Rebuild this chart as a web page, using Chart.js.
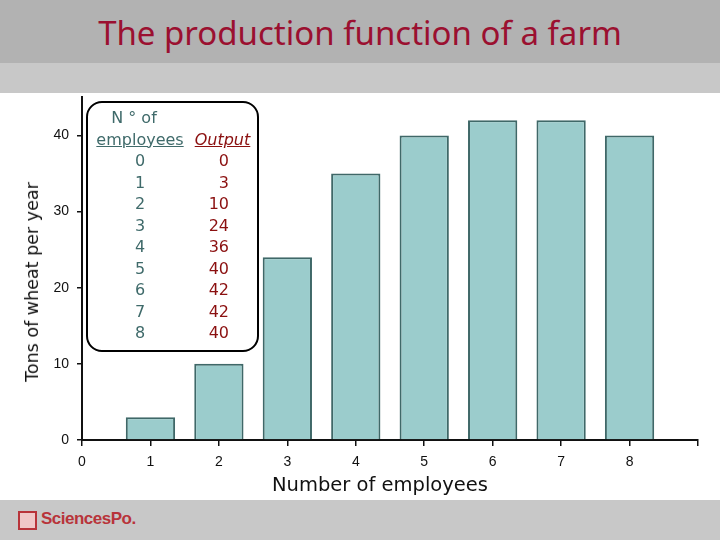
<!DOCTYPE html>
<html>
<head>
<meta charset="utf-8">
<script src="https://cdn.jsdelivr.net/npm/chart.js@4"></script>
<style>
  html, body { margin: 0; padding: 0; }
  body { width: 720px; height: 540px; position: relative; overflow: hidden; background: #fff; font-family: "DejaVu Sans", sans-serif; }
  #titlebar { position: absolute; left: 0; top: 0; width: 720px; height: 63px; background: #b2b2b2; }
  #title { position: absolute; left: 0; top: 0; width: 720px; height: 63px; line-height: 66px; text-align: center;
           font-family: "Noto Sans", sans-serif; font-size: 33px; color: #9b1030; }
  #subbar { position: absolute; left: 0; top: 63px; width: 720px; height: 30px; background: #c8c8c8; }
  #footer { position: absolute; left: 0; top: 500px; width: 720px; height: 40px; background: #c8c8c8; }
  #logoBox { position: absolute; left: 18px; top: 511px; width: 15px; height: 15px; border: 2px solid #b8343a; background: #f0c8c8; }
  #logoText { position: absolute; left: 41px; top: 509px; font-family: "Liberation Sans", sans-serif; font-weight: bold;
              font-size: 17px; color: #b8343a; letter-spacing: -0.5px; }
  #chartWrap { position: absolute; left: 0; top: 81px; width: 720px; height: 419px; }
  #yTitle { position: absolute; left: 32px; top: 282px; transform: translate(-50%, -50%) rotate(-90deg);
            white-space: nowrap; font-size: 17.5px; color: #111; }
  #xTitle { position: absolute; left: 380px; top: 484px; transform: translate(-50%, -50%);
            white-space: nowrap; font-size: 19.5px; color: #111; }
  #table { position: absolute; left: 86px; top: 101px; width: 169px; height: 247px; border: 2px solid #000;
           border-radius: 16px; background: #fff; font-size: 16px; }
  .row { position: absolute; left: 0; width: 169px; height: 21.5px; line-height: 21.5px; }
  .c1 { position: absolute; left: 2px; width: 100px; text-align: center; color: #3f6a6a; }
  .c2 { position: absolute; left: 104px; width: 37px; text-align: right; color: #8b1010; }
  .hd2 { position: absolute; left: 104px; width: 61px; text-align: center; color: #8b1010; font-style: italic; text-decoration: underline; }
</style>
</head>
<body>
<div id="titlebar"></div>
<div id="title">The production function of a farm</div>
<div id="subbar"></div>
<div id="chartWrap"><canvas id="chart" width="720" height="419"></canvas></div>
<div id="yTitle">Tons of wheat per year</div>
<div id="xTitle">Number of employees</div>
<div id="table"></div>
<div id="footer"></div>
<div id="logoBox"></div>
<div id="logoText">SciencesPo.</div>
<script>
// Bars as drawn in the picture
const employees = [1, 2, 3, 4, 5, 6, 7, 8];
const wheatTons = [3, 10, 24, 35, 40, 42, 42, 40];

// Numbers printed in the inset table
const tableEmployees = [0, 1, 2, 3, 4, 5, 6, 7, 8];
const tableOutput = [0, 3, 10, 24, 36, 40, 42, 42, 40];

const yTicks = [0, 10, 20, 30, 40];
const xTickLabels = ['0', '1', '2', '3', '4', '5', '6', '7', '8'];

// Inset table
const table = document.getElementById('table');
const rowH = 21.5;
let top0 = 4;
function addRow(i, left, right, header) {
    const row = document.createElement('div');
    row.className = 'row';
    row.style.top = (top0 + i * rowH) + 'px';
    const a = document.createElement('span');
    a.className = 'c1';
    a.innerHTML = left;
    row.appendChild(a);
    if (right !== null) {
        const b = document.createElement('span');
        b.className = header ? 'hd2' : 'c2';
        b.textContent = right;
        row.appendChild(b);
    }
    table.appendChild(row);
}
addRow(0, '<span style="position:relative;left:-6px">N ° of</span>', null, true);
addRow(1, '<u>employees</u>', 'Output', true);
tableEmployees.forEach((e, i) => addRow(i + 2, String(e), String(tableOutput[i]), false));

// Chart
const ctx = document.getElementById('chart').getContext('2d');
const tickFont = { family: 'Liberation Sans', size: 14 };

new Chart(ctx, {
    type: 'bar',
    data: {
        datasets: [{
            data: employees.map((e, i) => ({ x: e, y: wheatTons[i] })),
            backgroundColor: '#9bcccc',
            borderColor: '#3f6868',
            borderWidth: 2,
            barPercentage: 0.72,
            categoryPercentage: 1
        }]
    },
    options: {
        responsive: false,
        animation: false,
        layout: { padding: { left: 0, right: 22, top: 0, bottom: 30 } },
        plugins: { legend: { display: false }, tooltip: { enabled: false } },
        scales: {
            x: {
                type: 'linear',
                min: 0,
                max: 9,
                offset: false,
                border: { display: true, color: '#111', width: 2 },
                grid: { display: true, offset: false, drawOnChartArea: false, drawTicks: true, tickLength: 6, color: '#111', lineWidth: 1.5 },
                ticks: {
                    stepSize: 1,
                    color: '#111',
                    font: tickFont,
                    padding: 8,
                    maxRotation: 0,
                    callback: (v) => xTickLabels[v] !== undefined ? xTickLabels[v] : ''
                },
                afterFit: (scale) => { scale.height = 30; }
            },
            y: {
                min: 0,
                max: 45,
                border: { display: true, color: '#111', width: 2 },
                grid: { display: true, drawOnChartArea: false, drawTicks: true, tickLength: 5, color: '#111', lineWidth: 1.5 },
                ticks: {
                    stepSize: 10,
                    includeBounds: false,
                    color: '#111',
                    font: tickFont,
                    padding: 8,
                    callback: (v) => yTicks.includes(v) ? String(v) : ''
                },
                afterFit: (scale) => { scale.width = 82; }
            }
        }
    }
});
</script>
</body>
</html>
